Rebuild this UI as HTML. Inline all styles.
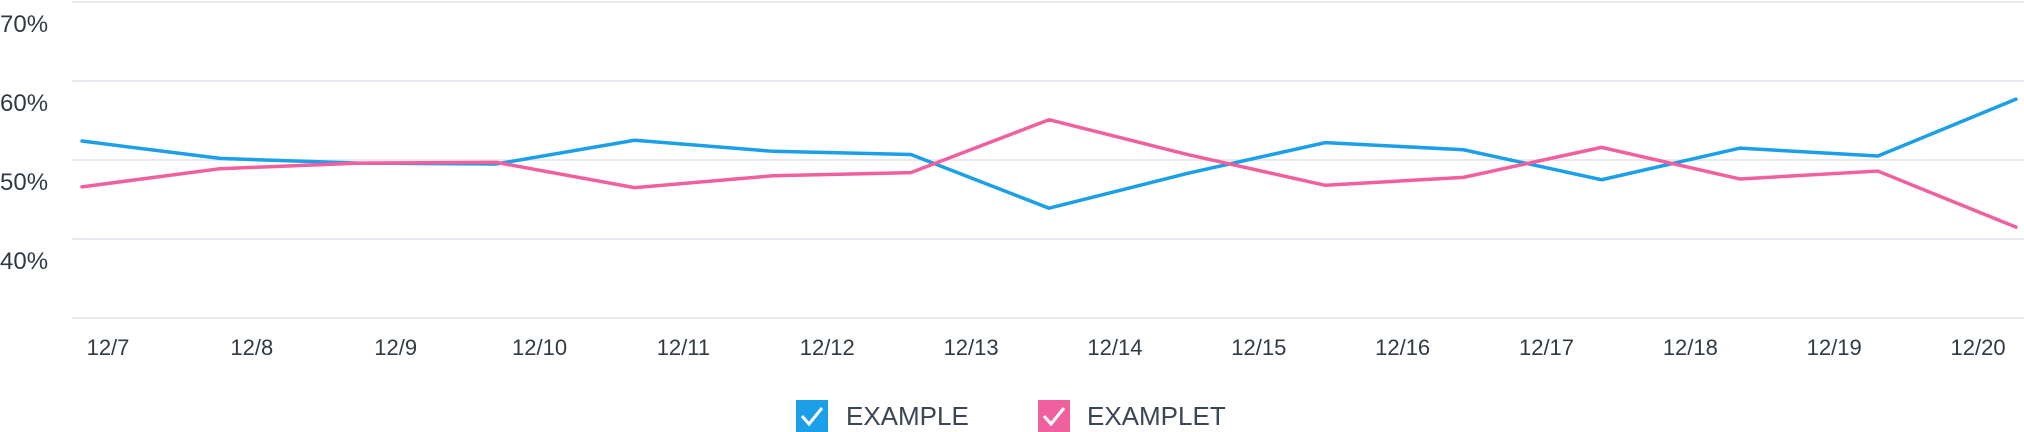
<!DOCTYPE html>
<html><head><meta charset="utf-8"><style>
html,body{margin:0;padding:0;background:#fff;width:2024px;height:432px;overflow:hidden}
svg{display:block}
text{font-family:"Liberation Sans",sans-serif;fill:#2f3a45}
</style></head><body>
<svg id="chart" width="2024" height="432" viewBox="0 0 2024 432">
<g id="grid"></g><g id="yl"></g><g id="xl"></g><g id="lines"></g>
<g>
<g>
<rect x="796" y="400" width="32" height="32" fill="#1a9fe8"/>
<polyline points="802,416 809,424 822,408" fill="none" stroke="#fff" stroke-width="3"/>
<text x="846" y="425" font-size="26" style="fill:#3a4654">EXAMPLE</text></g>
<g>
<rect x="1038" y="400" width="32" height="32" fill="#f0609e"/>
<polyline points="1044,416 1051,424 1064,408" fill="none" stroke="#fff" stroke-width="3"/>
<text x="1087" y="425" font-size="26" style="fill:#3a4654">EXAMPLET</text></g>
</g>
</svg>
<script>
const xLabels=["12/7","12/8","12/9","12/10","12/11","12/12","12/13","12/14","12/15","12/16","12/17","12/18","12/19","12/20"];
const yTicks=[70,60,50,40,30];
const seriesBlue=[52.4,50.2,49.6,49.5,52.5,51.1,50.7,43.9,48.3,52.2,51.3,47.5,51.5,50.5,57.7];
const seriesPink=[46.6,48.9,49.6,49.7,46.5,48.0,48.4,55.1,50.7,46.8,47.8,51.6,47.6,48.6,41.5];
const NS="http://www.w3.org/2000/svg";
function yS(v){return 160-(v-50)*7.9;}
function xP(i,n){return 82+i*(2016-82)/(n-1);}
function xL(i){return 108+i*143.85;}
const grid=document.getElementById('grid'),yl=document.getElementById('yl'),xl=document.getElementById('xl'),lines=document.getElementById('lines');
yTicks.forEach(t=>{
 const l=document.createElementNS(NS,'line');
 l.setAttribute('x1',72);l.setAttribute('x2',2024);l.setAttribute('y1',yS(t));l.setAttribute('y2',yS(t));
 l.setAttribute('stroke','#e8e8ee');l.setAttribute('stroke-width',2);
 
 
 grid.appendChild(l);
 if(t>30){
 const tx=document.createElementNS(NS,'text');
 tx.setAttribute('x',0);tx.setAttribute('y',yS(t)+30);tx.setAttribute('font-size',24);
 tx.textContent=t+'%';
 
 
 yl.appendChild(tx);}
});
xLabels.forEach((s,i)=>{
 const tx=document.createElementNS(NS,'text');
 tx.setAttribute('x',xL(i));tx.setAttribute('y',355);tx.setAttribute('font-size',22);tx.setAttribute('text-anchor','middle');
 tx.textContent=s;
 
 
 xl.appendChild(tx);
});
function draw(arr,color,name){
 const p=document.createElementNS(NS,'polyline');
 p.setAttribute('points',arr.map((v,i)=>xP(i,arr.length)+','+yS(v)).join(' '));
 p.setAttribute('fill','none');p.setAttribute('stroke',color);p.setAttribute('stroke-width',3.5);
 p.setAttribute('stroke-linecap','round');p.setAttribute('stroke-linejoin','round');
 
 
 lines.appendChild(p);
}
draw(seriesBlue,'#1a9fe8','line-example');
draw(seriesPink,'#f0609e','line-examplet');
</script>
</body></html>
